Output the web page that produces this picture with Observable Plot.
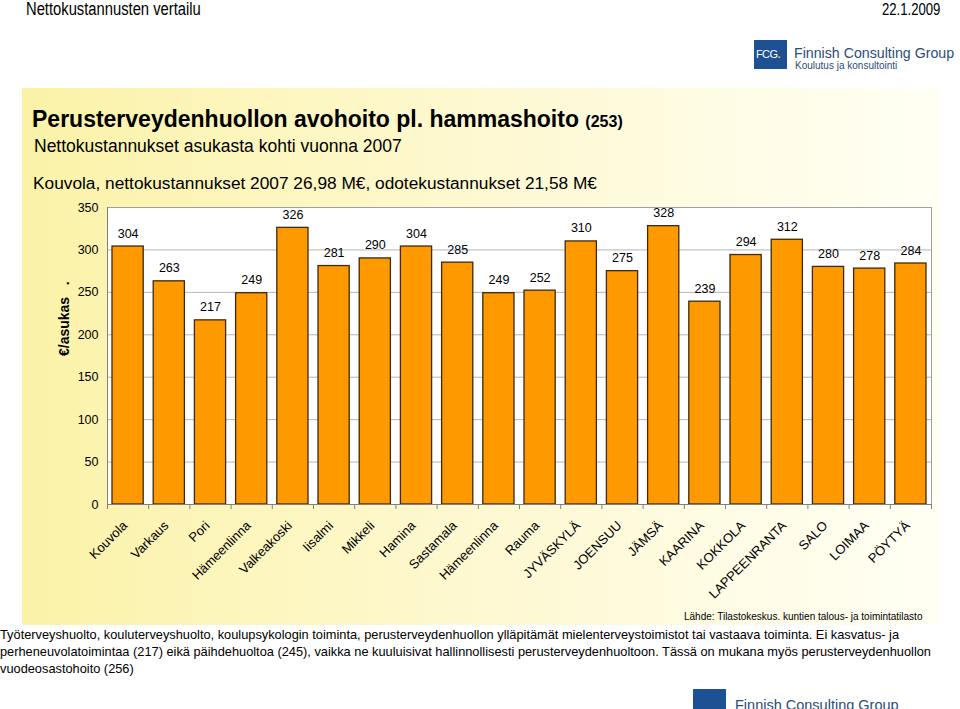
<!DOCTYPE html>
<html>
<head>
<meta charset="utf-8">
<script src="https://cdn.jsdelivr.net/npm/d3@7"></script>
<script src="https://cdn.jsdelivr.net/npm/@observablehq/plot@0.6"></script>
<style>
  html, body { margin: 0; padding: 0; }
  body { width: 960px; height: 709px; overflow: hidden; background: #fff; position: relative;
         font-family: "Liberation Sans", Arial, sans-serif; color: #000; }
  .abs { position: absolute; white-space: nowrap; }
  .narrow { transform: scaleX(0.82); transform-origin: 0 0; }
  #panel { position: absolute; left: 22px; top: 88px; width: 918px; height: 537px;
           background: linear-gradient(to right, #fbf2a8 0%, #fdf7c6 35%, #fefbe0 70%, #fffff4 100%); }
  .logo-box { position: absolute; background: #1d5194; color: #fff; }
  .logo-txt { position: absolute; color: #2c4d78; white-space: nowrap; }
</style>
</head>
<body>
<div class="abs narrow" style="left:26px; top:0px; font-size:18px; line-height:19px;">Nettokustannusten vertailu</div>
<div class="abs narrow" style="left:882px; top:1px; font-size:16px; line-height:17px;">22.1.2009</div>

<div class="logo-box" style="left:754px; top:40px; width:33px; height:29px;">
  <span style="position:absolute; left:2px; top:8px; font-size:11px; letter-spacing:-0.6px;">FCG<span style="color:#f5c400; font-weight:bold;">.</span></span>
</div>
<div class="logo-txt" style="left:794px; top:45px; font-size:14.2px; line-height:16px;">Finnish Consulting Group</div>
<div class="logo-txt" style="left:795px; top:61px; font-size:10px; line-height:10px;">Koulutus ja konsultointi</div>

<div id="panel"></div>

<div class="abs" style="left:32px; top:106px; font-size:23px; font-weight:bold; line-height:27px;">Perusterveydenhuollon avohoito pl. hammashoito <span style="font-size:16px;">(253)</span></div>
<div class="abs" style="left:34px; top:136px; font-size:17.5px; line-height:20px;">Nettokustannukset asukasta kohti vuonna 2007</div>
<div class="abs" style="left:33px; top:173px; font-size:17.3px; line-height:20px;">Kouvola, nettokustannukset 2007 26,98 M€, odotekustannukset 21,58 M€</div>

<div id="chart" style="position:absolute; left:22px; top:195px;"></div>

<div class="abs" style="left:684px; top:611px; font-size:10px; line-height:12px;">Lähde: Tilastokeskus. kuntien talous- ja toimintatilasto</div>

<div class="abs" style="left:0px; top:626px; font-size:12.8px; line-height:17px;">Työterveyshuolto, kouluterveyshuolto, koulupsykologin toiminta, perusterveydenhuollon ylläpitämät mielenterveystoimistot tai vastaava toiminta. Ei kasvatus- ja<br>perheneuvolatoimintaa (217) eikä päihdehuoltoa (245), vaikka ne kuuluisivat hallinnollisesti perusterveydenhuoltoon. Tässä on mukana myös perusterveydenhuollon<br>vuodeosastohoito (256)</div>

<div class="logo-box" style="left:693px; top:689px; width:33px; height:30px;"></div>
<div class="logo-txt" style="left:735px; top:697px; font-size:14.5px; line-height:17px;">Finnish Consulting Group</div>

<script>
const cities = ["Kouvola", "Varkaus", "Pori", "Hämeenlinna", "Valkeakoski", "Iisalmi", "Mikkeli", "Hamina",
  "Sastamala", "Hämeenlinna", "Rauma", "JYVÄSKYLÄ", "JOENSUU", "JÄMSÄ", "KAARINA", "KOKKOLA",
  "LAPPEENRANTA", "SALO", "LOIMAA", "PÖYTYÄ"];
const values = [304, 263, 217, 249, 326, 281, 290, 304, 285, 249, 252, 310, 275, 328, 239, 294, 312, 280, 278, 284];
const yTicks = [0, 50, 100, 150, 200, 250, 300, 350];
const yLabel = "€/asukas\u00a0\u00a0\u00a0.";

const data = cities.map((name, i) => ({i, name, value: values[i]}));
const bounds = d3.range(cities.length + 1);

const chart = Plot.plot({
  width: 918,
  height: 405,
  marginLeft: 85,
  marginRight: 9,
  marginTop: 12,
  marginBottom: 96,
  style: {background: "transparent", fontFamily: "'Liberation Sans', Arial, sans-serif", color: "#000"},
  x: {type: "linear", domain: [0, cities.length], axis: null},
  y: {domain: [0, 350], ticks: yTicks, label: null},
  marks: [
    Plot.frame({fill: "white", stroke: "none"}),
    Plot.gridY(yTicks, {stroke: "#b5b5b5", strokeOpacity: 1}),
    Plot.frame({stroke: "#a0a0a0", fill: "none"}),
    Plot.axisY(yTicks, {tickSize: 0, tickPadding: 9, fontSize: 12.5, label: null}),
    Plot.rectY(data, {x1: "i", x2: d => d.i + 1, y: "value", insetLeft: 5, insetRight: 5,
      fill: "#ff9900", stroke: "#3b2a0e", strokeWidth: 1.3}),
    Plot.ruleX([0], {stroke: "#808080"}),
    Plot.ruleY([0], {stroke: "#808080"}),
    Plot.axisX(bounds, {tickFormat: () => "", tickSize: 5, stroke: "#808080", label: null}),
    Plot.text(data, {x: d => d.i + 0.5, y: "value", text: d => String(d.value), dy: -13, fontSize: 12.5}),
    Plot.text(data, {x: d => d.i + 0.5, y: 0, text: "name", rotate: -45, textAnchor: "end",
      dx: -3, dy: 19, fontSize: 13}),
    Plot.text([yLabel], {text: d => d, frameAnchor: "left", dx: -43, rotate: -90,
      fontWeight: "bold", fontSize: 14})
  ]
});
document.getElementById("chart").appendChild(chart);
</script>
</body>
</html>
